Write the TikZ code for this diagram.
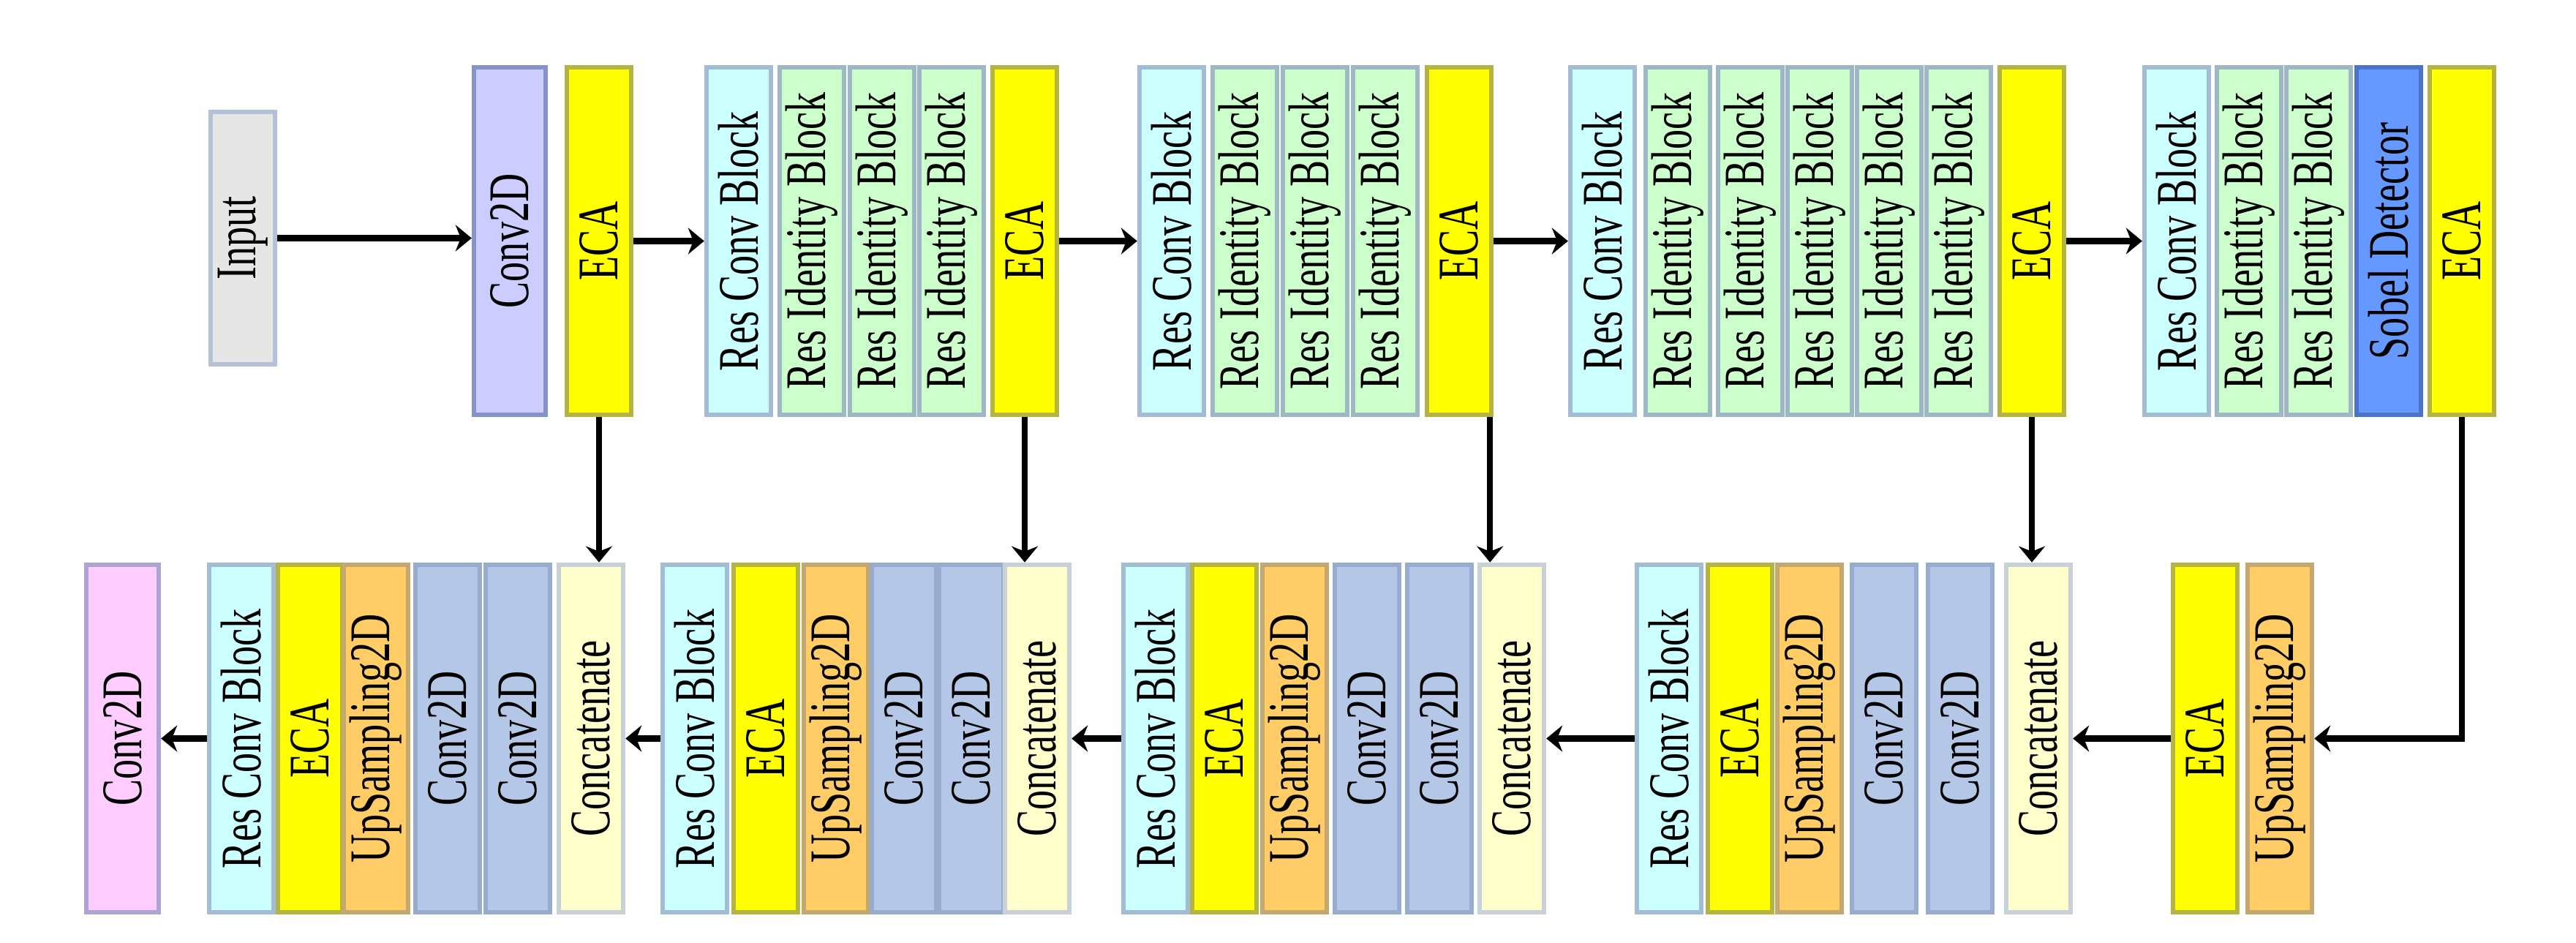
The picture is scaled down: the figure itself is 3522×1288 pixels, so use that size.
\documentclass[tikz,border=0pt]{standalone}
\usepackage{fontspec}
\setmainfont{Liberation Serif}
\usetikzlibrary{arrows.meta}

\definecolor{inputfill}{HTML}{E6E6E6}
\definecolor{inputdraw}{HTML}{B4C0D6}
\definecolor{convfill}{HTML}{CCCCFF}
\definecolor{convdraw}{HTML}{8494CA}
\definecolor{ecafill}{HTML}{FFFF00}
\definecolor{ecadraw}{HTML}{B4B444}
\definecolor{rcfill}{HTML}{CCFFFF}
\definecolor{rcdraw}{HTML}{A3BCD6}
\definecolor{idfill}{HTML}{CCFFCC}
\definecolor{iddraw}{HTML}{9DB8C4}
\definecolor{sobelfill}{HTML}{6699FF}
\definecolor{sobeldraw}{HTML}{4A74C8}
\definecolor{upfill}{HTML}{FFCC66}
\definecolor{updraw}{HTML}{C4A872}
\definecolor{cvfill}{HTML}{B4C7E7}
\definecolor{cvdraw}{HTML}{98ACD0}
\definecolor{catfill}{HTML}{FFFFCC}
\definecolor{catdraw}{HTML}{C8D0D8}
\definecolor{outfill}{HTML}{FFCCFF}
\definecolor{outdraw}{HTML}{ACA4D4}

\newcommand{\vlabel}[1]{\rotatebox{90}{\scalebox{1}[1.45]{#1}}}

\begin{document}
\begin{tikzpicture}[
        x=0.01cm, y=-0.01cm,
        every node/.style={font=\fontsize{15.4}{18}\selectfont},
        layer/.style={rectangle, line width=1.8pt, minimum width=0.88cm, minimum height=4.75cm, inner sep=0pt},
        inputbox/.style={layer, draw=inputdraw, fill=inputfill, minimum height=3.45cm},
        convbox/.style={layer, draw=convdraw, fill=convfill, minimum width=0.98cm},
        outbox/.style={layer, draw=outdraw, fill=outfill, minimum width=0.99cm},
        ecabox/.style={layer, draw=ecadraw, fill=ecafill},
        resconv/.style={layer, draw=rcdraw, fill=rcfill},
        resid/.style={layer, draw=iddraw, fill=idfill},
        sobelbox/.style={layer, draw=sobeldraw, fill=sobelfill},
        upbox/.style={layer, draw=updraw, fill=upfill},
        cvbox/.style={layer, draw=cvdraw, fill=cvfill},
        catbox/.style={layer, draw=catdraw, fill=catfill},
        arrow/.style={->, line width=2.4pt, draw=black, >={Stealth[length=2.2mm, width=3.6mm]}}
        ]
        \useasboundingbox (0,0) rectangle (3522,1288);

        % encoder row
        \node[inputbox] (input) at (332, 325.5) {\vlabel{Input}};
        \node[convbox] (conv) at (697, 329.5) {\vlabel{Conv2D}};
        \node[ecabox] (eca) at (819, 329.5) {\vlabel{ECA}};

        \node[resconv] (rcA) at (1010, 329.5) {\vlabel{Res Conv Block}};
        \node[resid] (idA1) at (1110, 329.5) {\vlabel{Res Identity Block}};
        \node[resid] (idA2) at (1206, 329.5) {\vlabel{Res Identity Block}};
        \node[resid] (idA3) at (1301, 329.5) {\vlabel{Res Identity Block}};
        \node[ecabox] (ecaA) at (1401, 329.5) {\vlabel{ECA}};

        \node[resconv] (rcB) at (1602, 329.5) {\vlabel{Res Conv Block}};
        \node[resid] (idB1) at (1702, 329.5) {\vlabel{Res Identity Block}};
        \node[resid] (idB2) at (1798, 329.5) {\vlabel{Res Identity Block}};
        \node[resid] (idB3) at (1894, 329.5) {\vlabel{Res Identity Block}};
        \node[ecabox] (ecaB) at (1995, 329.5) {\vlabel{ECA}};

        \node[resconv] (rcC) at (2191, 329.5) {\vlabel{Res Conv Block}};
        \node[resid] (idC1) at (2294, 329.5) {\vlabel{Res Identity Block}};
        \node[resid] (idC2) at (2393, 329.5) {\vlabel{Res Identity Block}};
        \node[resid] (idC3) at (2488, 329.5) {\vlabel{Res Identity Block}};
        \node[resid] (idC4) at (2583, 329.5) {\vlabel{Res Identity Block}};
        \node[resid] (idC5) at (2678, 329.5) {\vlabel{Res Identity Block}};
        \node[ecabox] (ecaC) at (2778, 329.5) {\vlabel{ECA}};

        \node[resconv] (rcD) at (2976, 329.5) {\vlabel{Res Conv Block}};
        \node[resid] (idD1) at (3075, 329.5) {\vlabel{Res Identity Block}};
        \node[resid] (idD2) at (3170, 329.5) {\vlabel{Res Identity Block}};
        \node[sobelbox] (sobel) at (3266, 329.5) {\vlabel{Sobel Detector}};
        \node[ecabox] (ecaD) at (3366, 329.5) {\vlabel{ECA}};

        % decoder row
        \node[outbox] (out) at (167.5, 1009.5) {\vlabel{Conv2D}};

        \node[resconv] (rcF) at (330, 1009.5) {\vlabel{Res Conv Block}};
        \node[ecabox] (ecaF) at (424, 1009.5) {\vlabel{ECA}};
        \node[upbox] (upF) at (514, 1009.5) {\vlabel{UpSampling2D}};
        \node[cvbox] (cvF1) at (612, 1009.5) {\vlabel{Conv2D}};
        \node[cvbox] (cvF2) at (708, 1009.5) {\vlabel{Conv2D}};
        \node[catbox] (catF) at (808, 1009.5) {\vlabel{Concatenate}};

        \node[resconv] (rcG) at (950, 1009.5) {\vlabel{Res Conv Block}};
        \node[ecabox] (ecaG) at (1047, 1009.5) {\vlabel{ECA}};
        \node[upbox] (upG) at (1143, 1009.5) {\vlabel{UpSampling2D}};
        \node[cvbox] (cvG1) at (1236, 1009.5) {\vlabel{Conv2D}};
        \node[cvbox] (cvG2) at (1328, 1009.5) {\vlabel{Conv2D}};
        \node[catbox] (catG) at (1418, 1009.5) {\vlabel{Concatenate}};

        \node[resconv] (rcH) at (1580, 1009.5) {\vlabel{Res Conv Block}};
        \node[ecabox] (ecaH) at (1674, 1009.5) {\vlabel{ECA}};
        \node[upbox] (upH) at (1770, 1009.5) {\vlabel{UpSampling2D}};
        \node[cvbox] (cvH1) at (1869, 1009.5) {\vlabel{Conv2D}};
        \node[cvbox] (cvH2) at (1968, 1009.5) {\vlabel{Conv2D}};
        \node[catbox] (catH) at (2067, 1009.5) {\vlabel{Concatenate}};

        \node[resconv] (rcI) at (2282, 1009.5) {\vlabel{Res Conv Block}};
        \node[ecabox] (ecaI) at (2379, 1009.5) {\vlabel{ECA}};
        \node[upbox] (upI) at (2474, 1009.5) {\vlabel{UpSampling2D}};
        \node[cvbox] (cvI1) at (2576, 1009.5) {\vlabel{Conv2D}};
        \node[cvbox] (cvI2) at (2680, 1009.5) {\vlabel{Conv2D}};
        \node[catbox] (catI) at (2787, 1009.5) {\vlabel{Concatenate}};

        \node[ecabox] (ecaJ) at (3015, 1009.5) {\vlabel{ECA}};
        \node[upbox] (upJ) at (3117, 1009.5) {\vlabel{UpSampling2D}};

        % flow along the encoder
        \draw[arrow] (input.east) -- (input.east -| conv.west);
        \draw[arrow] (eca) -- (rcA);
        \draw[arrow] (ecaA) -- (rcB);
        \draw[arrow] (ecaB) -- (rcC);
        \draw[arrow] (ecaC) -- (rcD);

        % skip connections
        \draw[arrow] (eca.south) -- (eca.south |- catF.north);
        \draw[arrow] (ecaA.south) -- (ecaA.south |- catG.north);
        \draw[arrow] ([xshift=-0.05cm]ecaB.south east) -- ([xshift=-0.05cm]ecaB.south east |- catH.north);
        \draw[arrow] (ecaC.south) -- (ecaC.south |- catI.north);
        \draw[arrow] (ecaD.south) |- (upJ.east);

        % flow along the decoder
        \draw[arrow] (ecaJ) -- (catI);
        \draw[arrow] (rcI) -- (catH);
        \draw[arrow] (rcH) -- (catG);
        \draw[arrow] (rcG) -- (catF);
        \draw[arrow] (rcF) -- (out);

    \end{tikzpicture}
\end{document}
